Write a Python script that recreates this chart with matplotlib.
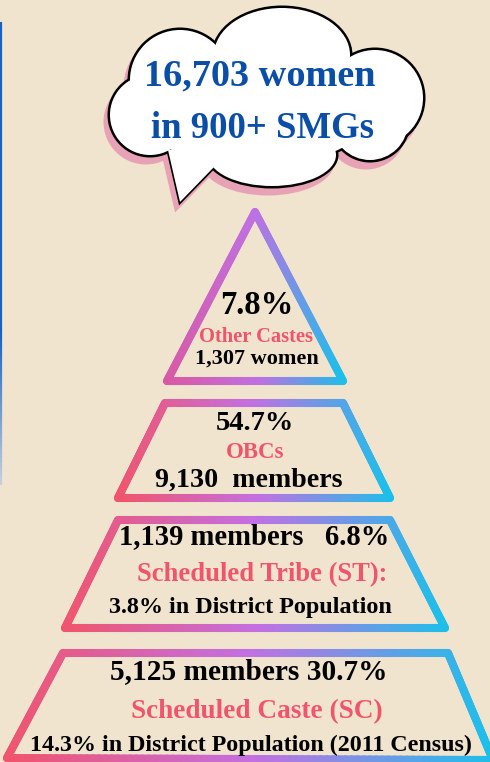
import numpy as np
import matplotlib
matplotlib.use('Agg')
import matplotlib.pyplot as plt
from matplotlib.collections import LineCollection
from matplotlib.colors import LinearSegmentedColormap, to_rgba
from matplotlib.patches import Ellipse, Polygon

# data
total_women = 16703
n_groups = '900+'
groups = ['Other Castes', 'OBCs', 'Scheduled Tribe (ST):', 'Scheduled Caste (SC)']
members = [1307, 9130, 1139, 5125]
shares = [7.8, 54.7, 6.8, 30.7]
district_share = [None, None, 3.8, 14.3]

BG = '#f0e4cf'
RED = '#f0556b'
BLUE = '#0b4ea8'
FONT = 'Liberation Serif'

fig = plt.figure(figsize=(4.9, 7.62), dpi=100)
fig.patch.set_facecolor(BG)
ax = fig.add_axes([0, 0, 1, 1])
ax.set_xlim(0, 490)
ax.set_ylim(762, 0)
ax.set_aspect('equal')
ax.axis('off')

cmap_trap = LinearSegmentedColormap.from_list('trap', ['#f0556e', '#c46fe2', '#1cc0ea'])
cmap_tri = LinearSegmentedColormap.from_list('tri', ['#d85aa6', '#c070e2', '#1cc0ea'])


def grad_outline(pts, cmap, lw=5.8):
    pts = np.array(pts + [pts[0]], dtype=float)
    segs, xs = [], []
    for a, b in zip(pts[:-1], pts[1:]):
        t = np.linspace(0, 1, 80)
        p = a + (b - a) * t[:, None]
        for i in range(len(p) - 1):
            segs.append([p[i], p[i + 1]])
            xs.append((p[i][0] + p[i + 1][0]) / 2)
    xs = np.array(xs)
    c = cmap((xs - xs.min()) / (xs.max() - xs.min()))
    lc = LineCollection(segs, colors=c, linewidths=lw, capstyle='round', joinstyle='round')
    ax.add_collection(lc)


# pyramid layers
layers = [
    [(167, 381), (255, 212), (343, 381)],
    [(118, 498), (165, 403), (343, 403), (390, 498)],
    [(65, 628), (118, 520), (390, 520), (445, 628)],
    [(7, 758), (63, 653), (448, 653), (493, 760)],
]
grad_outline(layers[0], cmap_tri)
for L in layers[1:]:
    grad_outline(L, cmap_trap)

# left blue rule
yy = np.linspace(22, 485, 120)
segs = [[(1, yy[i]), (1, yy[i + 1])] for i in range(len(yy) - 1)]
cols = []
for y in yy[:-1]:
    f = np.clip((y - 330) / 155, 0, 1)
    c1 = np.array(to_rgba('#1760c4'))
    c2 = np.array(to_rgba('#c9d3dc'))
    cols.append(c1 * (1 - f) + c2 * f)
ax.add_collection(LineCollection(segs, colors=cols, linewidths=1.6))

# cloud
circles = [(282, 55, 68, 47), (180, 80, 50, 50), (150, 115, 40, 40),
           (375, 98, 48, 48), (272, 155, 64, 31), (370, 122, 38, 38),
           (205, 128, 40, 40), (265, 105, 110, 60)]
tail = [(168, 150), (180, 202), (215, 166), (205, 145)]
sh = (-4, 7)


def cloud_layer(dx, dy, grow, color, z):
    for cx, cy, a, b in circles:
        ax.add_patch(Ellipse((cx + dx, cy + dy), 2 * (a + grow), 2 * (b + grow),
                             facecolor=color, edgecolor='none', zorder=z))


cloud_layer(sh[0], sh[1], 2.5, '#e8a2b6', 1)
ax.add_patch(Polygon([(x + sh[0], y + sh[1]) for x, y in tail], closed=True,
                     facecolor='#e8a2b6', edgecolor='#e8a2b6', lw=2.5, zorder=1))
cloud_layer(0, 0, 2.5, 'black', 2)
ax.add_patch(Polygon(tail, closed=True, facecolor='black', edgecolor='black',
                     lw=2.4, joinstyle='miter', zorder=2))
cloud_layer(0, 0, 0, 'white', 3)
ax.add_patch(Polygon(tail, closed=True, facecolor='white', edgecolor='none', zorder=3))

ax.text(260, 76, f'{total_women:,} women', color=BLUE, fontsize=27.5, fontweight='bold',
        family=FONT, ha='center', va='center', zorder=5)
ax.text(262, 128, f'in {n_groups} SMGs', color=BLUE, fontsize=26.5, fontweight='bold',
        family=FONT, ha='center', va='center', zorder=5)


def txt(x, y, s, size, color='black'):
    ax.text(x, y, s, fontsize=size, fontweight='bold', family=FONT, color=color,
            ha='center', va='center', zorder=5)


# layer 0: other castes
txt(257, 305, f'{shares[0]}%', 23.5)
txt(256, 337, groups[0], 14.8, RED)
txt(257, 359, f'{members[0]:,} women', 16)

# layer 1: OBCs
txt(255, 423, f'{shares[1]}%', 20.5)
txt(255, 452, groups[1], 16.5, RED)
txt(249, 480, f'{members[1]:,}  members', 20.2)

# layer 2: ST
txt(254, 537, f'{members[2]:,} members   {shares[2]}%', 20.6)
txt(262, 575, groups[2], 19.2, RED)
txt(250, 608, f'{district_share[2]}% in District Population', 17.4)

# layer 3: SC
txt(249, 672, f'{members[3]:,} members {shares[3]}%', 21.2)
txt(257, 712, groups[3], 19.6, RED)
txt(251, 745, f'{district_share[3]}% in District Population (2011 Census)', 17.3)

fig.savefig('out.png', dpi=100, facecolor=BG)
